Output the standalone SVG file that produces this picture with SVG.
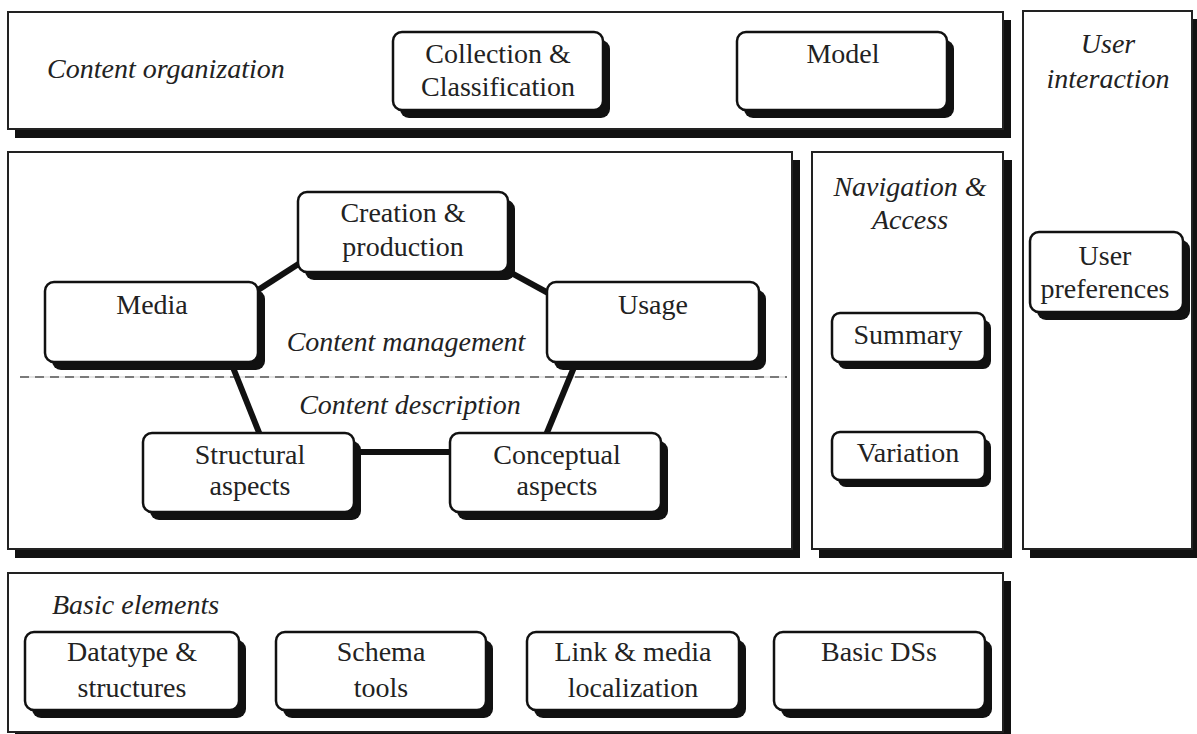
<svg xmlns="http://www.w3.org/2000/svg" width="1197" height="734" viewBox="0 0 1197 734">
<style>
.panel{fill:#fff;stroke:#222;stroke-width:2}
.pshadow{fill:#111}
.node{fill:#fff;stroke:#111;stroke-width:2.5}
.nshadow{fill:#111}
.t{font-family:"Liberation Serif","Times New Roman",serif;font-size:28px;fill:#222;text-anchor:middle}
.ti{font-family:"Liberation Serif","Times New Roman",serif;font-size:28px;fill:#222;font-style:italic}
.conn{stroke:#111;stroke-width:6;fill:none}
</style>
<rect width="1197" height="734" fill="#fff"/>

<!-- panels -->
<g id="panel-content-organization">
<rect class="pshadow" x="15" y="20" width="996" height="118"/>
<rect class="panel" x="8" y="12" width="995" height="117"/>
<text class="ti" x="47" y="78">Content organization</text>
</g>
<g id="panel-user-interaction">
<rect class="pshadow" x="1030" y="19" width="169" height="539"/>
<rect class="panel" x="1023" y="11" width="169" height="538"/>
<text class="ti" x="1108" y="53" text-anchor="middle">User</text>
<text class="ti" x="1108" y="88" text-anchor="middle">interaction</text>
</g>
<g id="panel-content-management">
<rect class="pshadow" x="15" y="160" width="785" height="398"/>
<rect class="panel" x="8" y="152" width="784" height="397"/>
<line x1="20" y1="377" x2="787" y2="377" stroke="#ccc" stroke-width="1.2"/>
<line x1="20" y1="377" x2="787" y2="377" stroke="#111" stroke-width="1.2" stroke-dasharray="9,6"/>
<text class="ti" x="406" y="351" text-anchor="middle">Content management</text>
<text class="ti" x="410" y="414" text-anchor="middle">Content description</text>
</g>
<g id="panel-navigation">
<rect class="pshadow" x="819" y="160" width="193" height="398"/>
<rect class="panel" x="812" y="152" width="191" height="397"/>
<text class="ti" x="910" y="196" text-anchor="middle">Navigation &amp;</text>
<text class="ti" x="910" y="229" text-anchor="middle">Access</text>
</g>
<g id="panel-basic-elements">
<rect class="pshadow" x="15" y="581" width="996" height="160"/>
<rect class="panel" x="8" y="573" width="995" height="159"/>
<text class="ti" x="52" y="614">Basic elements</text>
</g>

<!-- connectors -->
<g id="connectors">
<line class="conn" x1="255" y1="292" x2="300" y2="263"/>
<line class="conn" x1="506" y1="270" x2="550" y2="294"/>
<line class="conn" x1="230" y1="360" x2="260" y2="435"/>
<line class="conn" x1="577" y1="360" x2="546" y2="435"/>
<line class="conn" x1="353" y1="452" x2="452" y2="452"/>
</g>

<!-- nodes -->
<g id="node-collection">
<rect class="nshadow" x="400" y="40" width="210" height="78" rx="9"/>
<rect class="node" x="393" y="32" width="210" height="78" rx="9"/>
<text class="t" x="498" y="63">Collection &amp;</text>
<text class="t" x="498" y="96">Classification</text>
</g>
<g id="node-model">
<rect class="nshadow" x="744" y="40" width="210" height="78" rx="9"/>
<rect class="node" x="737" y="32" width="210" height="78" rx="9"/>
<text class="t" x="843" y="63">Model</text>
</g>
<g id="node-user-preferences">
<rect class="nshadow" x="1037" y="240" width="153" height="80" rx="9"/>
<rect class="node" x="1030" y="232" width="153" height="80" rx="9"/>
<text class="t" x="1105" y="265">User</text>
<text class="t" x="1105" y="298">preferences</text>
</g>
<g id="node-creation">
<rect class="nshadow" x="305" y="200" width="210" height="80" rx="9"/>
<rect class="node" x="298" y="192" width="210" height="80" rx="9"/>
<text class="t" x="403" y="222">Creation &amp;</text>
<text class="t" x="403" y="256">production</text>
</g>
<g id="node-media">
<rect class="nshadow" x="52" y="290" width="213" height="80" rx="9"/>
<rect class="node" x="45" y="282" width="213" height="80" rx="9"/>
<text class="t" x="152" y="314">Media</text>
</g>
<g id="node-usage">
<rect class="nshadow" x="554" y="290" width="212" height="80" rx="9"/>
<rect class="node" x="547" y="282" width="212" height="80" rx="9"/>
<text class="t" x="653" y="314">Usage</text>
</g>
<g id="node-structural">
<rect class="nshadow" x="150" y="441" width="211" height="79" rx="9"/>
<rect class="node" x="143" y="433" width="211" height="79" rx="9"/>
<text class="t" x="250" y="464">Structural</text>
<text class="t" x="250" y="495">aspects</text>
</g>
<g id="node-conceptual">
<rect class="nshadow" x="457" y="441" width="211" height="79" rx="9"/>
<rect class="node" x="450" y="433" width="211" height="79" rx="9"/>
<text class="t" x="557" y="464">Conceptual</text>
<text class="t" x="557" y="495">aspects</text>
</g>
<g id="node-summary">
<rect class="nshadow" x="838" y="320" width="153" height="49" rx="8"/>
<rect class="node" x="832" y="313" width="153" height="49" rx="8"/>
<text class="t" x="908" y="344">Summary</text>
</g>
<g id="node-variation">
<rect class="nshadow" x="838" y="439" width="153" height="48" rx="8"/>
<rect class="node" x="832" y="432" width="153" height="48" rx="8"/>
<text class="t" x="908" y="462">Variation</text>
</g>
<g id="node-datatype">
<rect class="nshadow" x="32" y="640" width="214" height="78" rx="9"/>
<rect class="node" x="25" y="632" width="214" height="78" rx="9"/>
<text class="t" x="132" y="661">Datatype &amp;</text>
<text class="t" x="132" y="697">structures</text>
</g>
<g id="node-schema">
<rect class="nshadow" x="283" y="640" width="210" height="78" rx="9"/>
<rect class="node" x="276" y="632" width="210" height="78" rx="9"/>
<text class="t" x="381" y="661">Schema</text>
<text class="t" x="381" y="697">tools</text>
</g>
<g id="node-link">
<rect class="nshadow" x="534" y="640" width="212" height="78" rx="9"/>
<rect class="node" x="527" y="632" width="212" height="78" rx="9"/>
<text class="t" x="633" y="661">Link &amp; media</text>
<text class="t" x="633" y="697">localization</text>
</g>
<g id="node-basic-dss">
<rect class="nshadow" x="781" y="640" width="211" height="78" rx="9"/>
<rect class="node" x="774" y="632" width="211" height="78" rx="9"/>
<text class="t" x="879" y="661">Basic DSs</text>
</g>
</svg>
